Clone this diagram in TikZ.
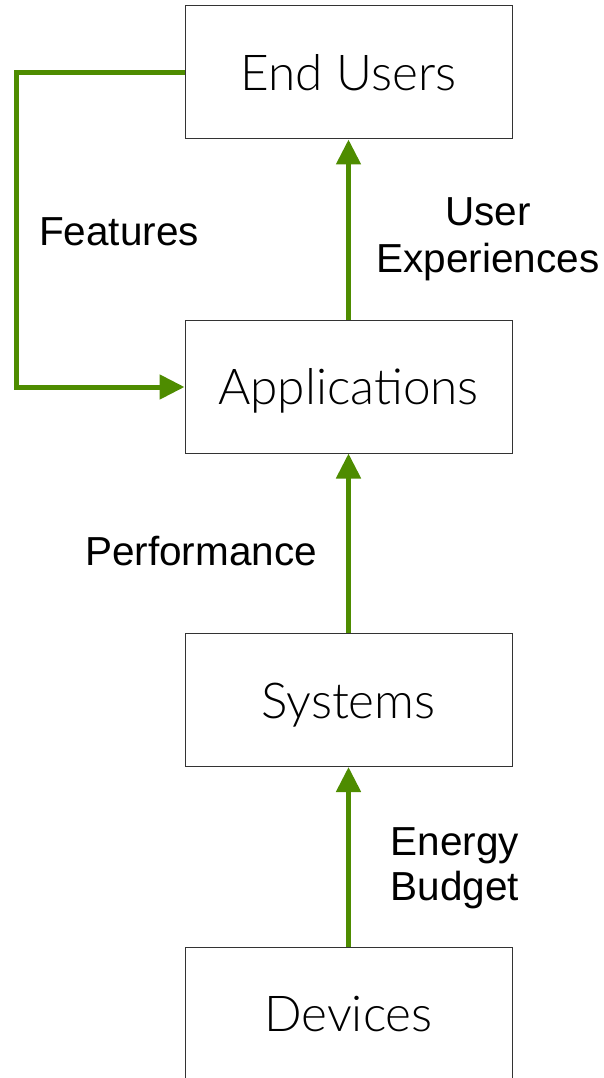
\documentclass[tikz,border=0pt]{standalone}
\usepackage{fontspec}
\setmainfont{Liberation Sans}
\newfontfamily\boxfont{Lato Light}
\usetikzlibrary{arrows.meta}
\definecolor{arrowgreen}{RGB}{78,140,0}
\begin{document}
\begin{tikzpicture}[x=1pt,y=1pt,
  layerbox/.style={draw=black!80, line width=1pt, minimum width=327pt, minimum height=133pt,
    text height=36pt, text depth=0pt, inner sep=0pt, font=\boxfont\fontsize{49.5}{60}\selectfont},
  flow/.style={draw=arrowgreen, line width=5pt, -{Triangle[length=25pt,width=24pt]}},
  lbl/.style={font=\fontsize{40.5}{47}\selectfont, align=center, inner sep=0pt, anchor=base}
]
\useasboundingbox (0,0) rectangle (604,-1078);
\node[layerbox] (eu)  at (348.5,-72.5)  {End Users};
\node[layerbox] (app) at (348.5,-386.5) {Applications};
\node[layerbox] (sys) at (348.5,-700)   {Systems};
\node[layerbox] (dev) at (348.5,-1013.5) {Devices};

\coordinate (fa) at (16,-73);
\coordinate (fb) at (16,-387);
\draw[flow] (eu.west |- fa) -- (fa) -- (fb) -- (app.west |- fb);
\draw[flow] (app.north) -- (eu.south);
\draw[flow] (sys.north) -- (app.south);
\draw[flow] (dev.north) -- (sys.south);

\node[lbl] (features) at (119,-245) {Features};
\node[lbl] (ux1) at (488,-225) {User};
\node[lbl] (ux2) at (488,-272) {Experiences};
\node[lbl] (perf) at (201,-565) {Performance};
\node[lbl] (en1) at (455,-855) {Energy};
\node[lbl] (en2) at (455,-900) {Budget};
\end{tikzpicture}
\end{document}
